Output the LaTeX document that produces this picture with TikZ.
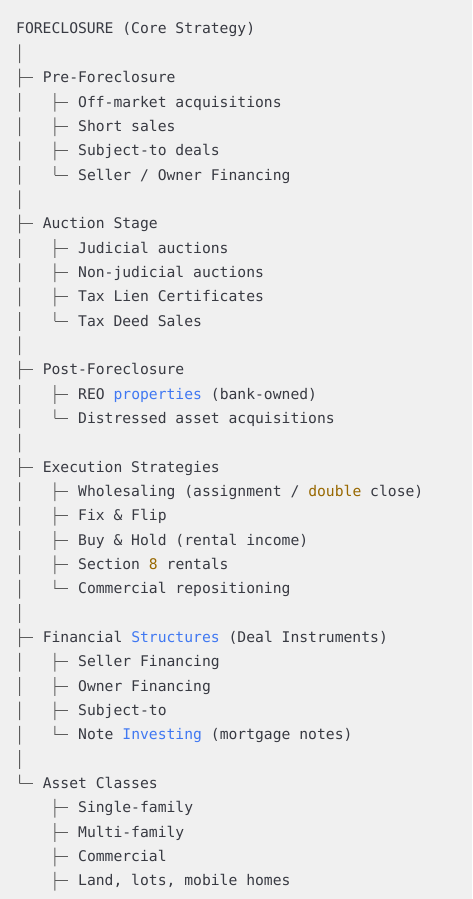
\documentclass[tikz,border=0pt]{standalone}
\usepackage{fontspec}
\usetikzlibrary{calc}
\newfontfamily\mono{DejaVu Sans Mono}
\definecolor{bg}{HTML}{F0F0F0}
\definecolor{ink}{HTML}{383A42}
\definecolor{rule}{HTML}{5C5C5C}
\definecolor{kwblue}{HTML}{4078F2}
\definecolor{numgold}{HTML}{986801}
\def\cw{8.85}
\def\lh{24.34}
\def\punkt#1#2{({16+(#1)*\cw},{-34-(#2)*\lh})}
\tikzset{
  txt/.style={anchor=base west,inner sep=0pt,text=ink,font=\fontsize{14.7}{17}\mono},
  tree/.style={draw=rule,line width=1pt},
  bar/.style={tree,dash pattern=on 18.7pt off 5.64pt},
  tick/.style={tree,shorten >=9.5pt},
}
% leaf: name, row, text
\newcommand\leaf[3]{%
  \node[txt] (#1) at \punkt{7}{#2} {#3};
  \coordinate (#1-j) at ($(#1.base west)+(-23,5)$);
  \draw[tick] (#1-j) -- (#1-j -| #1.west);
}

\begin{document}
\begin{tikzpicture}[x=1pt,y=1pt]
\fill[bg] (0,0) rectangle (472,-899);
\useasboundingbox (0,0) rectangle (472,-899);
\node[txt] (root) at \punkt{0}{0} {FORECLOSURE (Core Strategy)};
\coordinate (root-s) at ($(root.base west)+(3.5,-10.34)$);
% main branches
\foreach \n/\r/\t in {pre/2/Pre-Foreclosure, auc/8/Auction Stage, post/14/Post-Foreclosure,
    exe/18/Execution Strategies, fin/25/{Financial \textcolor{kwblue}{Structures} (Deal Instruments)},
    asset/31/Asset Classes}{
  \node[txt] (\n) at \punkt{3}{\r} {\t};
  \coordinate (\n-j) at ($(\n.base west)+(-23,5)$);
  \coordinate (\n-s) at ($(\n.base west)+(12.4,-10.34)$);
  \draw[tick] (\n-j) -- (\n-j -| \n.west);
}
\draw[bar] (root-s) -- (asset-j);
% leaves
\foreach \t [count=\i] in {Off-market acquisitions, Short sales, Subject-to deals, Seller / Owner Financing}{
  \leaf{pre\i}{2+\i}{\t}
}
\foreach \t [count=\i] in {Judicial auctions, Non-judicial auctions, Tax Lien Certificates, Tax Deed Sales}{
  \leaf{auc\i}{8+\i}{\t}
}
\foreach \t [count=\i] in {REO \textcolor{kwblue}{properties} (bank-owned), Distressed asset acquisitions}{
  \leaf{post\i}{14+\i}{\t}
}
\foreach \t [count=\i] in {Wholesaling (assignment / \textcolor{numgold}{double} close), Fix \& Flip,
    Buy \& Hold (rental income), Section \textcolor{numgold}{8} rentals, Commercial repositioning}{
  \leaf{exe\i}{18+\i}{\t}
}
\foreach \t [count=\i] in {Seller Financing, Owner Financing, Subject-to,
    Note \textcolor{kwblue}{Investing} (mortgage notes)}{
  \leaf{fin\i}{25+\i}{\t}
}
\foreach \t [count=\i] in {Single-family, Multi-family, Commercial, {Land, lots, mobile homes}}{
  \leaf{asset\i}{31+\i}{\t}
}
\coordinate (asset-e) at ($(asset4-j)+(0,-9.7)$);
\draw[bar] (pre-s) -- (pre4-j);
\draw[bar] (auc-s) -- (auc4-j);
\draw[bar] (post-s) -- (post2-j);
\draw[bar] (exe-s) -- (exe5-j);
\draw[bar] (fin-s) -- (fin4-j);
\draw[bar] (asset-s) -- (asset-e);
\end{tikzpicture}
\end{document}
